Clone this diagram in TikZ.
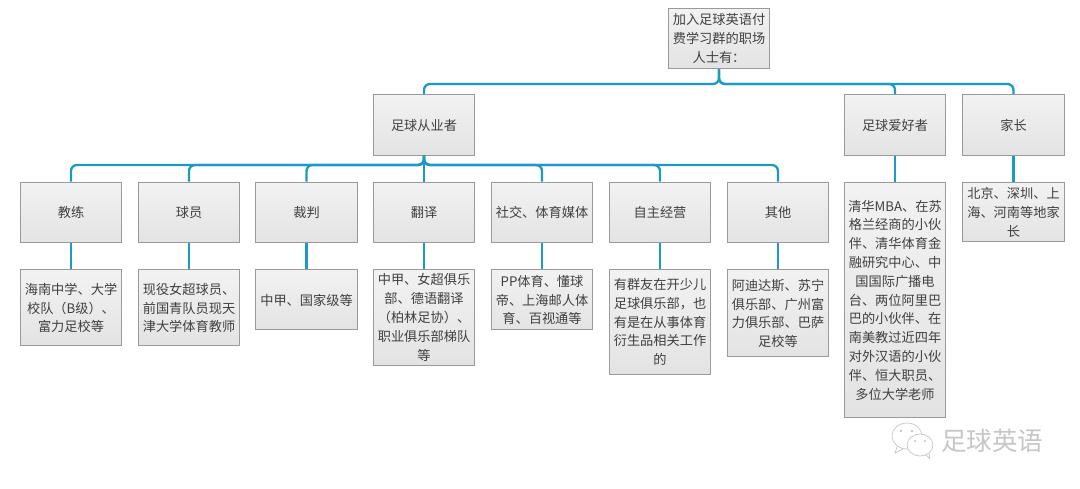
\documentclass[tikz,border=0pt]{standalone}
\usepackage{fontspec}
\setmainfont{Noto Sans CJK SC}
\usepackage{xcolor}
\usetikzlibrary{calc, positioning}

\definecolor{linkblue}{HTML}{1A9AC4}
\definecolor{boxline}{HTML}{9A9A9A}
\definecolor{boxtext}{HTML}{404040}
\definecolor{markgray}{HTML}{C6C6C6}

\tikzset{
    box/.style={draw=boxline, line width=1pt, top color=black!5, bottom color=black!11, text=boxtext,
        minimum width=101.5pt, inner sep=0pt, align=center,
        font=\fontsize{13.2}{18.8}\selectfont},
    head/.style={box, minimum height=60.5pt},
    leaf/.style={box, anchor=north},
    link/.style={draw=linkblue, line width=2.3pt, rounded corners=6pt}
}

\begin{document}
\begin{tikzpicture}[x=1pt, y=-1pt]
    \useasboundingbox (0, 0) rectangle (1080, 489);

    \node[head] (top) at (719, 38.3) {加入足球英语付\\费学习群的职场\\人士有：};
    \coordinate (topbus) at (719, 84);

    \node[head] (pro) at (424, 125) {足球从业者};
    \node[head] (fan) at (895, 125) {足球爱好者};
    \node[head] (family) at (1013.5, 125) {家长};
    \coordinate (probus) at (424, 165);

    \node[head] (coach) at (71, 212.3) {教练};
    \node[head] (player) at (189, 212.3) {球员};
    \node[head] (referee) at (306.5, 212.3) {裁判};
    \node[head] (translate) at (424, 212.3) {翻译};
    \node[head] (media) at (542, 212.3) {社交、体育媒体};
    \node[head] (business) at (660, 212.3) {自主经营};
    \node[head] (other) at (778, 212.3) {其他};

    \node[leaf, minimum height=76pt] (coachnote) at (71, 269.5) {海南中学、大学\\校队（B级）、\\富力足校等};
    \node[leaf, minimum height=76pt] (playernote) at (189, 269.5) {现役女超球员、\\前国青队员现天\\津大学体育教师};
    \node[leaf, minimum height=60pt] (refereenote) at (306.5, 269.5) {中甲、国家级等};
    \node[leaf, minimum height=95pt] (translatenote) at (424, 269.5) {中甲、女超俱乐\\部、德语翻译\\（柏林足协）、\\职业俱乐部梯队\\等};
    \node[leaf, minimum height=60pt] (medianote) at (542, 269.5) {PP体育、懂球\\帝、上海邮人体\\育、百视通等};
    \node[leaf, minimum height=104pt] (businessnote) at (660, 269.5) {有群友在开少儿\\足球俱乐部，也\\有是在从事体育\\衍生品相关工作\\的};
    \node[leaf, minimum height=87pt] (othernote) at (778, 269.5) {阿迪达斯、苏宁\\俱乐部、广州富\\力俱乐部、巴萨\\足校等};
    \node[leaf, minimum height=234pt] (fannote) at (895, 182.5) {清华MBA、在苏\\格兰经商的小伙\\伴、清华体育金\\融研究中心、中\\国国际广播电\\台、两位阿里巴\\巴的小伙伴、在\\南美教过近四年\\对外汉语的小伙\\伴、恒大职员、\\多位大学老师};
    \node[leaf, minimum height=59pt] (familynote) at (1013.5, 182.5) {北京、深圳、上\\海、河南等地家\\长};

    % upper level
    \draw[link] (top.south) -- (topbus) -| (pro.north);
    \draw[link] (top.south) -- (topbus) -| (fan.north);
    \draw[link] (top.south) -- (topbus) -| (family.north);

    % second level
    \draw[link] (pro.south) -- (probus) -| (coach.north);
    \draw[link] (pro.south) -- (probus) -| (player.north);
    \draw[link] (pro.south) -- (probus) -| (referee.north);
    \draw[link] (pro.south) -- (translate.north);
    \draw[link] (pro.south) -- (probus) -| (media.north);
    \draw[link] (pro.south) -- (probus) -| (business.north);
    \draw[link] (pro.south) -- (probus) -| (other.north);

    \draw[link] (coach.south) -- (coachnote.north);
    \draw[link] (player.south) -- (playernote.north);
    \draw[link] (referee.south) -- (refereenote.north);
    \draw[link] (translate.south) -- (translatenote.north);
    \draw[link] (media.south) -- (medianote.north);
    \draw[link] (business.south) -- (businessnote.north);
    \draw[link] (other.south) -- (othernote.north);
    \draw[link] (fan.south) -- (fannote.north);
    \draw[link] (family.south) -- (familynote.north);

    % watermark
    \draw[markgray, line width=0.7pt, fill=white]
    (907, 436) ellipse [x radius=15, y radius=13]
    (897, 447) -- (895, 453) -- (903, 449);
    \draw[markgray, line width=0.7pt, fill=white]
    (920, 445) ellipse [x radius=13, y radius=11]
    (926, 455) -- (930, 459) -- (929, 453);
    \fill[markgray]
    (901, 431) circle (1.3) (912, 431) circle (1.3)
    (915, 441) circle (1.2) (925, 441) circle (1.2);
    \node[text=markgray, font=\fontsize{25.5}{26}\selectfont, inner sep=0pt] (mark) at (992, 441) {足球英语};
\end{tikzpicture}
\end{document}
